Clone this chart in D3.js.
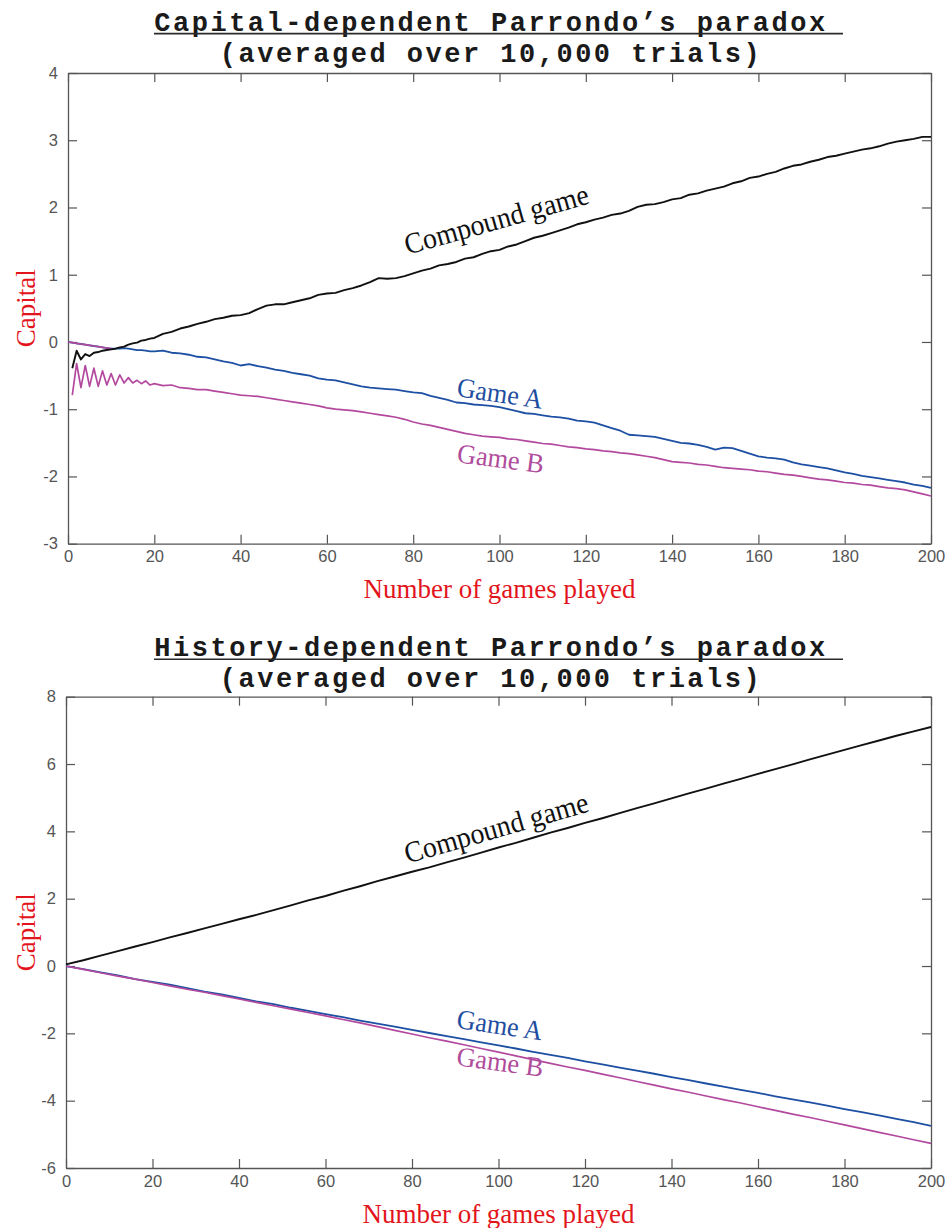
<!DOCTYPE html>
<html>
<head>
<meta charset="utf-8">
<script src="https://cdn.jsdelivr.net/npm/d3@7"></script>
<style>
  html, body { margin: 0; padding: 0; background: #fff; }
  svg { display: block; }
</style>
</head>
<body>
<svg id="chart" width="946" height="1228"></svg>
<script>
// ---------------- DATA ----------------
// Panel 1: capital-dependent (games 0..20 every game, then every 2 games)
const games1 = d3.range(0, 21).concat(d3.range(22, 201, 2));

const compound1 = [
  null, -0.39, -0.13, -0.26, -0.18, -0.21, -0.16, -0.15, -0.13, -0.12, -0.11,
  -0.10, -0.08, -0.07, -0.04, -0.02, -0.01, 0.02, 0.03, 0.05, 0.06,
  0.12, 0.15, 0.20, 0.23, 0.27, 0.30, 0.34, 0.36, 0.39, 0.40,
  0.43, 0.49, 0.54, 0.56, 0.56, 0.59, 0.62, 0.65, 0.70, 0.72,
  0.73, 0.77, 0.80, 0.84, 0.89, 0.95, 0.94, 0.95, 0.98, 1.02,
  1.06, 1.09, 1.14, 1.16, 1.19, 1.24, 1.26, 1.31, 1.35, 1.37,
  1.42, 1.45, 1.50, 1.55, 1.58, 1.62, 1.66, 1.70, 1.75, 1.78,
  1.82, 1.85, 1.89, 1.91, 1.95, 2.01, 2.04, 2.05, 2.08, 2.12,
  2.14, 2.19, 2.21, 2.25, 2.28, 2.31, 2.36, 2.39, 2.44, 2.46,
  2.50, 2.53, 2.58, 2.62, 2.64, 2.68, 2.71, 2.75, 2.77, 2.80,
  2.83, 2.86, 2.88, 2.91, 2.95, 2.98, 3.00, 3.02, 3.05, 3.05
];

const gameA1 = [
  0.00, -0.01, -0.02, -0.03, -0.04, -0.05, -0.06, -0.07, -0.08, -0.09, -0.10,
  -0.10, -0.10, -0.09, -0.10, -0.11, -0.12, -0.12, -0.13, -0.14, -0.14,
  -0.13, -0.16, -0.17, -0.19, -0.22, -0.23, -0.26, -0.29, -0.31, -0.35,
  -0.33, -0.36, -0.38, -0.41, -0.43, -0.46, -0.48, -0.50, -0.54, -0.56,
  -0.57, -0.60, -0.63, -0.66, -0.68, -0.69, -0.70, -0.71, -0.73, -0.75,
  -0.76, -0.80, -0.83, -0.86, -0.90, -0.91, -0.93, -0.94, -0.95, -0.97,
  -1.00, -1.03, -1.06, -1.07, -1.09, -1.11, -1.12, -1.14, -1.17, -1.18,
  -1.20, -1.24, -1.28, -1.32, -1.38, -1.39, -1.40, -1.41, -1.44, -1.47,
  -1.50, -1.51, -1.53, -1.56, -1.60, -1.57, -1.58, -1.62, -1.66, -1.70,
  -1.72, -1.73, -1.75, -1.79, -1.82, -1.84, -1.86, -1.88, -1.91, -1.94,
  -1.96, -1.99, -2.01, -2.03, -2.05, -2.07, -2.09, -2.12, -2.14, -2.17
];

const gameB1 = [
  null, -0.79, -0.32, -0.68, -0.35, -0.66, -0.39, -0.66, -0.43, -0.64, -0.47,
  -0.64, -0.49, -0.61, -0.53, -0.61, -0.57, -0.62, -0.58, -0.64, -0.62,
  -0.65, -0.64, -0.68, -0.69, -0.71, -0.71, -0.73, -0.75, -0.77, -0.79,
  -0.80, -0.81, -0.83, -0.85, -0.87, -0.89, -0.91, -0.93, -0.95, -0.98,
  -1.00, -1.01, -1.02, -1.04, -1.06, -1.08, -1.10, -1.12, -1.15, -1.19,
  -1.22, -1.24, -1.27, -1.30, -1.33, -1.36, -1.38, -1.40, -1.41, -1.42,
  -1.44, -1.45, -1.47, -1.49, -1.51, -1.52, -1.54, -1.56, -1.57, -1.59,
  -1.60, -1.62, -1.63, -1.65, -1.66, -1.68, -1.70, -1.72, -1.75, -1.78,
  -1.79, -1.80, -1.82, -1.83, -1.85, -1.87, -1.88, -1.89, -1.90, -1.92,
  -1.93, -1.95, -1.97, -1.98, -2.00, -2.02, -2.04, -2.05, -2.07, -2.09,
  -2.10, -2.12, -2.13, -2.15, -2.17, -2.18, -2.20, -2.23, -2.26, -2.29
];

// Panel 2: history-dependent (every 4 games)
const games2 = d3.range(0, 201, 4);

const compound2 = [
  0.05, 0.17, 0.31, 0.44, 0.58, 0.71, 0.85, 0.98, 1.12, 1.25,
  1.39, 1.52, 1.66, 1.80, 1.95, 2.08, 2.23, 2.37, 2.52, 2.66,
  2.80, 2.93, 3.08, 3.22, 3.37, 3.52, 3.66, 3.81, 3.96, 4.10,
  4.25, 4.39, 4.54, 4.69, 4.83, 4.98, 5.13, 5.27, 5.42, 5.56,
  5.71, 5.85, 5.99, 6.14, 6.28, 6.42, 6.56, 6.70, 6.84, 6.97, 7.10
];

const gameA2 = [
  0.00, -0.09, -0.19, -0.28, -0.39, -0.47, -0.55, -0.66, -0.76, -0.84,
  -0.95, -1.05, -1.13, -1.24, -1.33, -1.43, -1.52, -1.62, -1.71, -1.80,
  -1.90, -1.99, -2.08, -2.17, -2.27, -2.36, -2.45, -2.55, -2.64, -2.73,
  -2.83, -2.92, -3.02, -3.11, -3.20, -3.30, -3.39, -3.49, -3.58, -3.68,
  -3.77, -3.87, -3.96, -4.05, -4.15, -4.25, -4.34, -4.44, -4.54, -4.64, -4.75
];

const gameB2 = [
  0.00, -0.10, -0.20, -0.30, -0.39, -0.49, -0.59, -0.69, -0.78, -0.88,
  -0.98, -1.08, -1.18, -1.28, -1.38, -1.48, -1.59, -1.69, -1.80, -1.91,
  -2.02, -2.13, -2.23, -2.34, -2.45, -2.56, -2.67, -2.78, -2.89, -3.00,
  -3.10, -3.21, -3.32, -3.43, -3.54, -3.65, -3.75, -3.86, -3.97, -4.07,
  -4.18, -4.29, -4.40, -4.50, -4.61, -4.72, -4.83, -4.94, -5.05, -5.16, -5.27
];

const xTicks = [0, 20, 40, 60, 80, 100, 120, 140, 160, 180, 200];
const yTicks1 = [-3, -2, -1, 0, 1, 2, 3, 4];
const yTicks2 = [-6, -4, -2, 0, 2, 4, 6, 8];

const titles1 = ["Capital-dependent Parrondo\u2019s paradox", "(averaged over 10,000 trials)"];
const titles2 = ["History-dependent Parrondo\u2019s paradox", "(averaged over 10,000 trials)"];
const xLabel = "Number of games played";
const yLabel = "Capital";
const seriesNames = ["Compound game", "Game A", "Game B"];

// ---------------- STYLE / LAYOUT ----------------
const COL = { compound: "#111111", A: "#1d4fa3", B: "#b3499e",
              labA: "#1f4e9f", labB: "#b04c9c", axis: "#555555", red: "#e3151c" };

const panels = [
  { left: 68, right: 931, top: 73, bottom: 543.7, yDomain: [-3, 4], yTicks: yTicks1,
    titles: titles1, t1: 30.7, t2: 61.5, ul: 33.6,
    games: games1, compound: compound1, A: gameA1, B: gameB1, leadN: 10,
    labels: [
      { name: 0, x: 99.9, y: 1.68, angle: -15.7, size: 29.5, sx: 0.94, color: COL.compound },
      { name: 1, x: 99.8, y: -0.90, angle: 8.5, size: 27.5, sx: 0.95, color: COL.labA },
      { name: 2, x: 100.0, y: -1.87, angle: 7.3, size: 27.5, sx: 0.96, color: COL.labB }
    ] },
  { left: 66, right: 931, top: 696.7, bottom: 1168, yDomain: [-6, 8], yTicks: yTicks2,
    titles: titles2, t1: 656, t2: 687, ul: 659.2,
    games: games2, compound: compound2, A: gameA2, B: gameB2, leadN: -1,
    labels: [
      { name: 0, x: 100.1, y: 3.82, angle: -16, size: 29.5, sx: 0.94, color: COL.compound },
      { name: 1, x: 100.0, y: -2.02, angle: 8.5, size: 27.5, sx: 0.95, color: COL.labA },
      { name: 2, x: 100.1, y: -3.12, angle: 7.5, size: 27.5, sx: 0.96, color: COL.labB }
    ] }
];

const svg = d3.select("#chart");
svg.append("rect").attr("width", 946).attr("height", 1228).attr("fill", "#fff");

panels.forEach(p => {
  const x = d3.scaleLinear().domain([0, 200]).range([p.left, p.right]);
  const y = d3.scaleLinear().domain(p.yDomain).range([p.bottom, p.top]);
  const g = svg.append("g");

  // titles
  const titleFont = "'Courier New', 'Liberation Mono', monospace";
  g.append("text").attr("x", 491).attr("y", p.t1).attr("text-anchor", "middle")
    .attr("font-family", titleFont).attr("font-weight", "bold").attr("font-size", 27)
    .attr("letter-spacing", 2.5).attr("fill", "#1a1a1a").text(p.titles[0]);
  g.append("line").attr("x1", 154).attr("x2", 843).attr("y1", p.ul).attr("y2", p.ul)
    .attr("stroke", "#2a2a2a").attr("stroke-width", 1.6);
  g.append("text").attr("x", 491).attr("y", p.t2).attr("text-anchor", "middle")
    .attr("font-family", titleFont).attr("font-weight", "bold").attr("font-size", 27)
    .attr("letter-spacing", 2.5).attr("fill", "#1a1a1a").text(p.titles[1]);

  // axes
  const styleAxis = sel => {
    sel.selectAll("path.domain").attr("stroke", COL.axis).attr("stroke-width", 1.3);
    sel.selectAll(".tick line").attr("stroke", COL.axis).attr("stroke-width", 1.2);
    sel.selectAll(".tick text").attr("fill", COL.axis)
      .attr("font-family", "'Liberation Sans', Arial, sans-serif").attr("font-size", 16.5);
  };
  g.append("g").attr("transform", `translate(0,${p.bottom})`)
    .call(d3.axisBottom(x).tickValues(xTicks).tickSizeInner(-9).tickSizeOuter(0).tickPadding(7))
    .call(styleAxis);
  g.append("g").attr("transform", `translate(0,${p.top})`)
    .call(d3.axisTop(x).tickValues(xTicks).tickSizeInner(-9).tickSizeOuter(0).tickFormat(""))
    .call(styleAxis);
  g.append("g").attr("transform", `translate(${p.left},0)`)
    .call(d3.axisLeft(y).tickValues(p.yTicks).tickSizeInner(-9).tickSizeOuter(0).tickPadding(10).tickFormat(d3.format("d")))
    .call(styleAxis);
  g.append("g").attr("transform", `translate(${p.right},0)`)
    .call(d3.axisRight(y).tickValues(p.yTicks).tickSizeInner(-9).tickSizeOuter(0).tickFormat(""))
    .call(styleAxis);
  g.selectAll(".tick text").each(function() {
    const t = d3.select(this); t.text(t.text().replace("\u2212", "-"));
  });

  // axis labels
  g.append("text")
    .attr("transform", `translate(35,${(p.top + p.bottom) / 2}) rotate(-90)`)
    .attr("text-anchor", "middle").attr("font-family", "'Times New Roman', 'Liberation Serif', serif")
    .attr("font-size", 27).attr("fill", COL.red).text(yLabel);
  g.append("text")
    .attr("x", (p.left + p.right) / 2).attr("y", p.bottom + 54.5)
    .attr("text-anchor", "middle").attr("font-family", "'Times New Roman', 'Liberation Serif', serif")
    .attr("font-size", 27).attr("fill", COL.red).text(xLabel);

  // lines
  const line = d3.line().defined(d => d[1] !== null).x(d => x(d[0])).y(d => y(d[1]));
  const pts = arr => p.games.map((n, i) => [n, arr[i]]);

  g.append("path").datum(pts(p.A)).attr("d", line)
    .attr("fill", "none").attr("stroke", COL.A).attr("stroke-width", 1.8).attr("stroke-linejoin", "round");
  if (p.leadN > 0) {
    g.append("path").datum(pts(p.A).filter(d => d[0] <= p.leadN)).attr("d", line)
      .attr("fill", "none").attr("stroke", COL.B).attr("stroke-width", 1.7);
  }
  g.append("path").datum(pts(p.B)).attr("d", line)
    .attr("fill", "none").attr("stroke", COL.B).attr("stroke-width", 1.7).attr("stroke-linejoin", "round");
  g.append("path").datum(pts(p.compound)).attr("d", line)
    .attr("fill", "none").attr("stroke", COL.compound).attr("stroke-width", 1.9).attr("stroke-linejoin", "round");

  // in-plot labels
  p.labels.forEach(l => {
    g.append("text")
      .attr("transform", `translate(${x(l.x)},${y(l.y)}) rotate(${l.angle}) scale(${l.sx},1)`)
      .attr("text-anchor", "middle")
      .attr("font-family", "'Times New Roman', 'Liberation Serif', serif")
      .attr("font-size", l.size).attr("fill", l.color).text(seriesNames[l.name]);
  });
});
</script>
</body>
</html>
